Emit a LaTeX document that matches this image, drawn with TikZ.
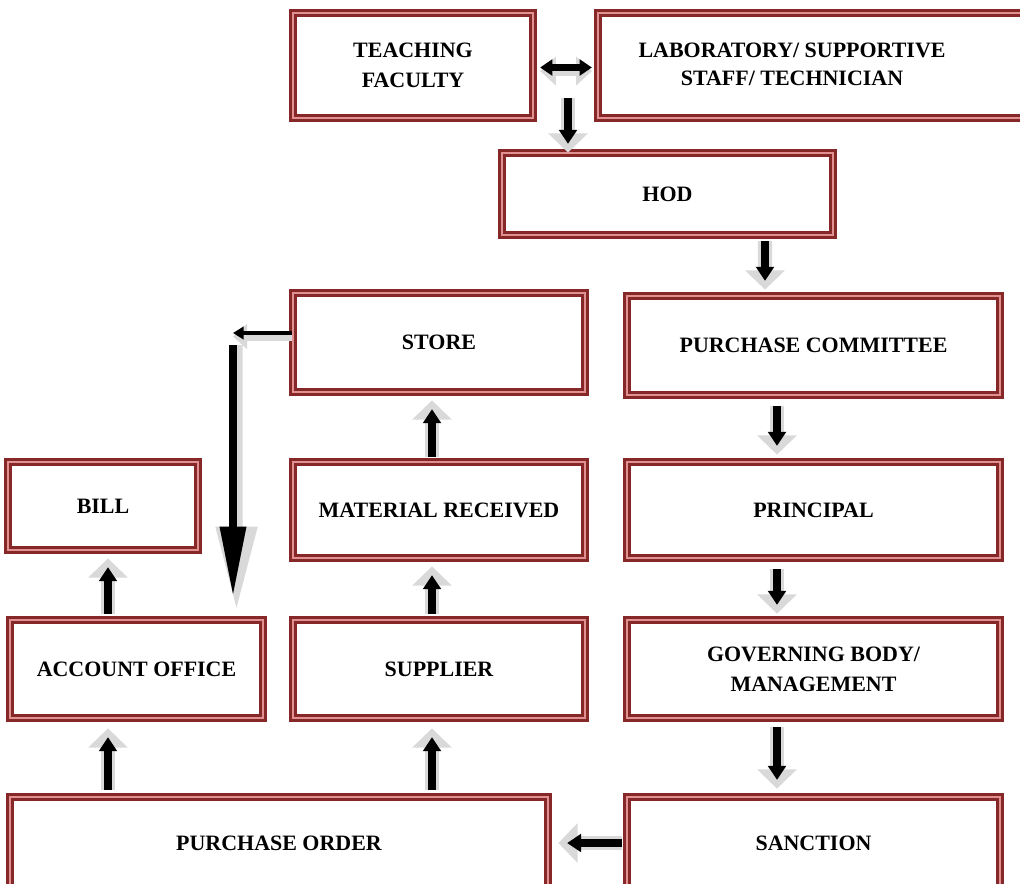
\documentclass[tikz,border=0pt]{standalone}
\usepackage{fontspec}
\setmainfont{Liberation Serif}
\usepackage{tikz}
\definecolor{boxred}{RGB}{135,40,40}
\definecolor{boxpink}{RGB}{225,145,145}
\tikzstyle{block} = [rectangle, draw=boxred, line width=1.3pt, double=boxpink,
    double distance=1.5pt, fill=white, align=center, inner sep=0pt,
    font=\fontsize{12.5}{17}\selectfont\bfseries]
\tikzstyle{fat} = [line width=4.5pt, -{Triangle[length=8pt,width=10pt]},
    preaction={draw=gray!30, line width=8pt, -{Triangle[length=11pt,width=22pt]}, shorten >=-5pt}]
\tikzstyle{fatboth} = [line width=3.5pt, {Triangle[length=7pt,width=9pt]}-{Triangle[length=7pt,width=9pt]},
    preaction={draw=gray!30, line width=6pt, {Triangle[length=9pt,width=16pt]}-{Triangle[length=9pt,width=16pt]},
    transform canvas={yshift=-2pt}}]
\tikzstyle{slim} = [line width=2.5pt, -{Triangle[length=6pt,width=7pt]},
    preaction={draw=gray!30, line width=5pt, -{Triangle[length=8pt,width=14pt]}, transform canvas={yshift=-2pt}}]
\tikzstyle{longfat} = [line width=4.5pt, -{Triangle[length=40pt,width=14pt]},
    preaction={draw=gray!30, line width=7pt, -{Triangle[length=48pt,width=22pt]},
    shorten >=-8pt, transform canvas={xshift=2pt}}]
\usetikzlibrary{calc}
\usetikzlibrary{arrows.meta}
\usetikzlibrary{positioning}

\begin{document}
\begin{tikzpicture}[x=0.02cm,y=-0.02cm]
    \useasboundingbox (0,0) rectangle (1020,883);

    \node[block, minimum width=4.8cm, minimum height=2.1cm] (tf) at (413,65.5) {TEACHING\\FACULTY};
    \node[block, minimum width=8.64cm, minimum height=2.1cm] (lab) at (814,65.5)
        {\begin{tabular}{@{}c@{}}LABORATORY/ SUPPORTIVE\\[-1pt]STAFF/ TECHNICIAN\end{tabular}\hspace{0.88cm}};
    \node[block, minimum width=6.62cm, minimum height=1.64cm] (hod) at (667.5,194) {HOD};

    \node[block, minimum width=5.84cm, minimum height=1.98cm] (store) at (439,342.5) {STORE};
    \node[block, minimum width=7.46cm, minimum height=1.98cm] (pc) at (813.5,345.5) {PURCHASE COMMITTEE};

    \node[block, minimum width=3.8cm, minimum height=1.76cm] (bill) at (103,506) {BILL};
    \node[block, minimum width=5.84cm, minimum height=1.92cm] (mr) at (439,510) {MATERIAL RECEIVED};
    \node[block, minimum width=7.46cm, minimum height=1.92cm] (principal) at (813.5,510) {PRINCIPAL};

    \node[block, minimum width=5.06cm, minimum height=1.96cm] (ao) at (136.5,669) {ACCOUNT OFFICE};
    \node[block, minimum width=5.84cm, minimum height=1.96cm] (supplier) at (439,669) {SUPPLIER};
    \node[block, minimum width=7.46cm, minimum height=1.96cm] (gb) at (813.5,669) {GOVERNING BODY/\\MANAGEMENT};

    \node[block, minimum width=10.76cm, minimum height=1.84cm] (po) at (279,843) {PURCHASE ORDER};
    \node[block, minimum width=7.46cm, minimum height=1.84cm] (sanction) at (813.5,843) {SANCTION};

    \coordinate (split) at (568,98);
    \coordinate (turn) at (233,333);

    % top row
    \draw[fatboth] ($(tf.east)+(6,2)$) -- ($(lab.west)+(-5,2)$);
    \draw[fat] (split) -- ($(hod.north)+(-99.5,-8)$);

    % right column, going down
    \draw[fat] ($(hod.south)+(97.5,5)$) -- ($(pc.north)+(-48.5,-14)$);
    \draw[fat] ($(pc.south)+(-36.5,10)$) -- ($(principal.north)+(-36.5,-15)$);
    \draw[fat] ($(principal.south)+(-36.5,10)$) -- ($(gb.north)+(-36.5,-14)$);
    \draw[fat] ($(gb.south)+(-36.5,8)$) -- ($(sanction.north)+(-36.5,-16)$);
    \draw[fat] ($(sanction.west)+(-4,0)$) -- ($(po.east)+(18,0)$);

    % left columns, going up
    \draw[fat] ($(po.north)+(153,-6)$) -- ($(supplier.south)+(-7,18)$);
    \draw[fat] ($(po.north)+(-171,-6)$) -- ($(ao.south)+(-28.5,18)$);
    \draw[fat] ($(supplier.north)+(-7,-5)$) -- ($(mr.south)+(-7,16)$);
    \draw[fat] ($(mr.north)+(-7,-4)$) -- ($(store.south)+(-7,16)$);
    \draw[fat] ($(ao.north)+(-28.5,-5)$) -- ($(bill.south)+(5,16)$);

    % store back to account office
    \draw[slim] ($(store.west)+(0,-9.5)$) -- (turn);
    \draw[longfat] ($(turn)+(0,12)$) -- ($(ao.north)+(96.5,-22)$);
\end{tikzpicture}
\end{document}
